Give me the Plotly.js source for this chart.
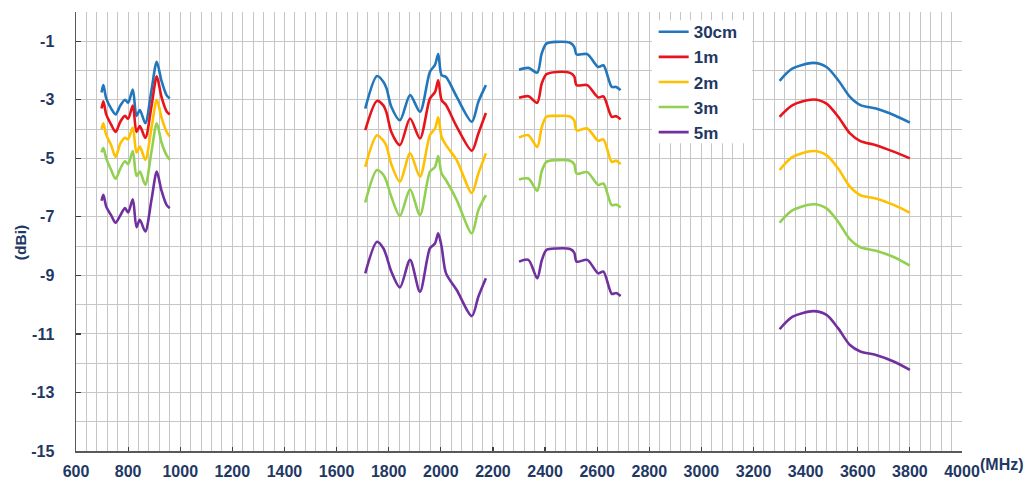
<!DOCTYPE html>
<html><head><meta charset="utf-8">
<script src="https://cdn.plot.ly/plotly-3.0.1.min.js"></script>
<style>html,body{margin:0;padding:0;background:#fff;}#chart{width:1031px;height:482px;}</style>
</head><body><div id="chart"></div>
<script>
const seriesNames = ['30cm', '1m', '2m', '3m', '5m'];
const seriesColors = ['#2176BC', '#E8141C', '#FFC000', '#92D050', '#7030A0'];

const freqBand1 = [698, 705, 716, 735, 752, 770, 788, 800, 818, 832, 845, 866, 890, 910, 928, 948, 960];
const freqBand2 = [1710, 1755, 1780, 1792, 1810, 1843, 1882, 1920, 1958, 1978, 1990, 2003, 2020, 2061, 2119, 2144, 2173];
const freqBand3 = [2300, 2336, 2370, 2387, 2405, 2444, 2496, 2512, 2521, 2562, 2604, 2624, 2656, 2673, 2690];
const freqBand4 = [3300, 3350, 3430, 3480, 3525, 3570, 3610, 3670, 3740, 3800];

const gain30cm_b1 = [-2.75, -2.5, -2.95, -3.3, -3.5, -3.2, -3.0, -3.1, -2.65, -3.55, -3.35, -3.8, -2.65, -1.7, -2.35, -2.85, -2.95];
const gain1m_b1   = [-3.3, -3.05, -3.5, -3.85, -4.1, -3.75, -3.55, -3.65, -3.2, -4.1, -3.9, -4.3, -3.2, -2.2, -2.9, -3.4, -3.5];
const gain2m_b1   = [-4.0, -3.8, -4.2, -4.55, -4.95, -4.5, -4.3, -4.35, -3.95, -4.8, -4.6, -5.05, -3.95, -3.0, -3.6, -4.1, -4.25];
const gain3m_b1   = [-4.8, -4.65, -5.0, -5.4, -5.7, -5.35, -5.1, -5.2, -4.75, -5.6, -5.45, -5.9, -4.75, -3.8, -4.45, -4.9, -5.05];
const gain5m_b1   = [-6.45, -6.25, -6.65, -6.95, -7.2, -6.95, -6.7, -6.85, -6.4, -7.35, -7.1, -7.5, -6.4, -5.45, -6.1, -6.6, -6.7];

const gain30cm_b2 = [-3.3, -2.19, -2.39, -2.62, -3.24, -3.7, -2.84, -3.41, -2.05, -1.8, -1.44, -2.16, -2.22, -2.9, -3.75, -3.07, -2.5];
const gain1m_b2   = [-4.04, -3.04, -3.2, -3.45, -4.1, -4.55, -3.64, -4.32, -2.96, -2.73, -2.33, -3.01, -3.18, -3.92, -4.74, -4.15, -3.45];
const gain2m_b2   = [-5.29, -4.21, -4.4, -4.6, -5.2, -5.8, -4.83, -5.63, -4.21, -3.98, -3.6, -4.27, -4.55, -5.06, -6.18, -5.52, -4.83];
const gain3m_b2   = [-6.51, -5.4, -5.57, -5.8, -6.31, -6.97, -6.06, -6.94, -5.46, -5.29, -4.92, -5.52, -5.75, -6.43, -7.56, -6.77, -6.26];
const gain5m_b2   = [-8.93, -7.85, -8.08, -8.36, -8.87, -9.41, -8.47, -9.56, -8.08, -7.9, -7.56, -8.02, -8.93, -9.5, -10.39, -9.73, -9.1];

const gain30cm_b3 = [-1.97, -1.91, -2.07, -1.42, -1.08, -1.02, -1.05, -1.19, -1.45, -1.44, -1.88, -1.82, -2.56, -2.56, -2.67];
const gain1m_b3   = [-2.93, -2.88, -3.1, -2.45, -2.13, -2.05, -2.08, -2.2, -2.5, -2.5, -2.92, -2.88, -3.58, -3.56, -3.67];
const gain2m_b3   = [-4.29, -4.21, -4.61, -3.95, -3.58, -3.55, -3.57, -3.7, -4.04, -3.98, -4.4, -4.35, -5.12, -5.08, -5.2];
const gain3m_b3   = [-5.72, -5.69, -6.11, -5.45, -5.12, -5.06, -5.08, -5.2, -5.52, -5.47, -5.91, -5.86, -6.6, -6.58, -6.68];
const gain5m_b3   = [-8.53, -8.47, -9.1, -8.5, -8.13, -8.08, -8.1, -8.22, -8.53, -8.47, -8.93, -8.87, -9.63, -9.6, -9.7];

const gain30cm_b4 = [-2.35, -1.93, -1.74, -1.88, -2.33, -2.9, -3.18, -3.3, -3.53, -3.78];
const gain1m_b4   = [-3.58, -3.18, -2.99, -3.13, -3.58, -4.15, -4.41, -4.55, -4.78, -5.0];
const gain2m_b4   = [-5.4, -4.95, -4.75, -4.89, -5.35, -5.97, -6.26, -6.37, -6.6, -6.86];
const gain3m_b4   = [-7.2, -6.77, -6.57, -6.71, -7.17, -7.77, -8.04, -8.16, -8.38, -8.67];
const gain5m_b4   = [-10.84, -10.41, -10.22, -10.35, -10.81, -11.38, -11.6, -11.72, -11.95, -12.23];

const xTickVals = [600, 800, 1000, 1200, 1400, 1600, 1800, 2000, 2200, 2400, 2600, 2800, 3000, 3200, 3400, 3600, 3800, 4000];
const yTickVals = [-1, -3, -5, -7, -9, -11, -13, -15];
const yTickText = ['-1', '-3', '-5', '-7', '-9', '-11', '-13', '-15'];

const seriesBands = [
  [gain30cm_b1, gain30cm_b2, gain30cm_b3, gain30cm_b4],
  [gain1m_b1, gain1m_b2, gain1m_b3, gain1m_b4],
  [gain2m_b1, gain2m_b2, gain2m_b3, gain2m_b4],
  [gain3m_b1, gain3m_b2, gain3m_b3, gain3m_b4],
  [gain5m_b1, gain5m_b2, gain5m_b3, gain5m_b4]
];
const freqBands = [freqBand1, freqBand2, freqBand3, freqBand4];

function joinBands(arrs) {
  let out = [];
  arrs.forEach((a, i) => { if (i > 0) out.push(null); out = out.concat(a); });
  return out;
}

const xAll = joinBands(freqBands);
const traces = seriesNames.map((name, i) => ({
  type: 'scatter', mode: 'lines', name: name,
  x: xAll, y: joinBands(seriesBands[i]),
  connectgaps: false,
  line: {color: seriesColors[i], width: 2.6, shape: 'spline', smoothing: 0.8}
}));

const textColor = '#1F3864';
const fontFam = 'Liberation Sans, Arial, Helvetica, sans-serif';
const gridCol = '#C6C6C6';

const layout = {
  width: 1031, height: 482,
  margin: {l: 76, r: 69, t: 12, b: 31},
  paper_bgcolor: '#FFFFFF', plot_bgcolor: '#FFFFFF',
  showlegend: true,
  font: {family: fontFam, color: textColor},
  xaxis: {
    range: [600, 4000], tickmode: 'array', tickvals: xTickVals,
    ticks: 'inside', ticklen: 4, tickcolor: '#404040', tickwidth: 1.2,
    showgrid: true, gridcolor: gridCol, gridwidth: 1,
    minor: {dtick: 40, tick0: 600, showgrid: true, gridcolor: gridCol, gridwidth: 1},
    showline: true, linecolor: '#595959', linewidth: 1.5, mirror: false,
    zeroline: false,
    tickfont: {family: fontFam, size: 16, color: textColor, weight: 'bold'},
    ticklabelstandoff: 5
  },
  yaxis: {
    range: [-15, 0], tickmode: 'array', tickvals: yTickVals, ticktext: yTickText,
    ticks: 'inside', ticklen: 5, tickcolor: '#404040', tickwidth: 1.2,
    showgrid: true, gridcolor: gridCol, gridwidth: 1,
    minor: {dtick: 1, tick0: 0, showgrid: true, gridcolor: gridCol, gridwidth: 1},
    showline: true, linecolor: '#595959', linewidth: 1.5, mirror: false,
    zeroline: false,
    tickfont: {family: fontFam, size: 16, color: textColor, weight: 'bold'},
    ticklabelstandoff: 17
  },
  legend: {
    x: 0.652, y: 0.995, xanchor: 'left', yanchor: 'top',
    bgcolor: 'rgba(0,0,0,0)', borderwidth: 0,
    itemwidth: 30,
    font: {family: fontFam, size: 17, color: textColor, weight: 'bold'}
  },
  shapes: [{
    type: 'rect', xref: 'paper', yref: 'paper', layer: 'above',
    x0: 0.65, x1: 0.763, y0: 0.701, y1: 0.981,
    fillcolor: '#FFFFFF', line: {width: 0}
  }],
  annotations: [{
    text: '(MHz)', xref: 'paper', yref: 'paper', x: 1.0185, y: -0.030,
    xanchor: 'left', yanchor: 'middle', showarrow: false,
    font: {family: fontFam, size: 16, color: textColor, weight: 'bold'}
  }, {
    text: '(dBi)', xref: 'paper', yref: 'paper', x: -0.0632, y: 0.4735,
    xanchor: 'center', yanchor: 'middle', textangle: -90, showarrow: false,
    font: {family: fontFam, size: 15.5, color: textColor, weight: 'bold'}
  }]
};

Plotly.newPlot('chart', traces, layout, {displayModeBar: false, staticPlot: true});
</script>
</body></html>
